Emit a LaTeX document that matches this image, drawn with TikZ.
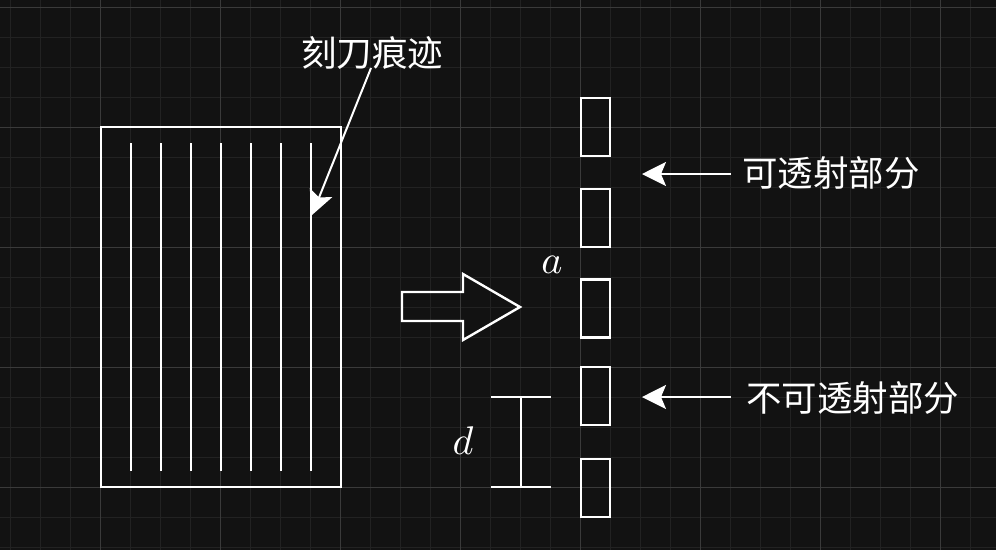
\documentclass[tikz,border=0pt]{standalone}
\usepackage{fontspec}
\newfontfamily\cjk{Noto Sans CJK SC}
\usetikzlibrary{arrows.meta}
\definecolor{bg}{HTML}{121212}
\definecolor{minorg}{HTML}{222222}
\definecolor{majorg}{HTML}{3A3A3A}
\tikzset{
  ln/.style={draw=white, line width=2.4pt},
  slit/.style={draw=white, line width=2.2pt},
  ptr/.style={draw=white, line width=2pt, -{Stealth[length=24pt, width=24pt, inset=5pt]}},
  lbl/.style={text=white, font=\cjk\fontsize{35.5}{42}\selectfont, inner sep=0pt},
  mlbl/.style={text=white, font=\normalsize, inner sep=0pt, scale=4},
}
\begin{document}
\begin{tikzpicture}[x=1pt,y=-1pt]
\fill[bg] (0,0) rectangle (996,550);
\useasboundingbox (0,0) rectangle (996,550);
% grid
\foreach \i in {0,...,33} { \draw[minorg, line width=1pt] ({10+30*\i},0) -- ({10+30*\i},550); }
\foreach \j in {0,...,18} { \draw[minorg, line width=1pt] (0,{7+30*\j}) -- (996,{7+30*\j}); }
\foreach \i in {0,...,8} { \draw[majorg, line width=1pt] ({100+120*\i},0) -- ({100+120*\i},550); }
\foreach \j in {0,...,4} { \draw[majorg, line width=1pt] (0,{7+120*\j}) -- (996,{7+120*\j}); }
% plate
\draw[ln] (101,127) rectangle (341,487);
\foreach \x [count=\k] in {131,161,191,221,251,281,311} {
  \draw[ln] (\x,143) -- (\x,471);
}
\coordinate (groove) at (312,215);
\node[lbl] (ke) at (372,53) {刻刀痕迹};
\coordinate (kestart) at (371,68);
\draw[ptr] (kestart) -- (groove);
% block arrow
\draw[ln, line join=miter] (402,292) -- (463,292) -- (463,274) -- (520,307) -- (463,340) -- (463,321) -- (402,321) -- cycle;
% slits
\node[slit, minimum width=29pt, minimum height=58pt, inner sep=0pt] (s1) at (595.5,127) {};
\node[slit, minimum width=29pt, minimum height=58pt, inner sep=0pt] (s2) at (595.5,218) {};
\node[slit, minimum width=29pt, minimum height=58pt, inner sep=0pt] (s3) at (595.5,308.5) {};
\node[slit, minimum width=29pt, minimum height=58pt, inner sep=0pt] (s4) at (595.5,396) {};
\node[slit, minimum width=29pt, minimum height=58pt, inner sep=0pt] (s5) at (595.5,488) {};
% labels
\node[mlbl] (a) at (552,265) {$a$};
\node[mlbl] (d) at (463,441) {$d$};
% I-beam
\coordinate (it) at (521,397);
\coordinate (ib) at (521,487);
\draw[ln] (491,397) -- (551,397);
\draw[ln] (491,487) -- (551,487);
\draw[ln] (it) -- (ib);
% right labels
\node[lbl, anchor=west] (t1) at (742,173) {可透射部分};
\node[lbl, anchor=west] (t2) at (746,398) {不可透射部分};
\coordinate (p1) at (731,174);
\coordinate (p2) at (731,397);
\draw[ptr] (p1) -- (642,174);
\draw[ptr] (p2) -- (642,397);
\end{tikzpicture}
\end{document}
